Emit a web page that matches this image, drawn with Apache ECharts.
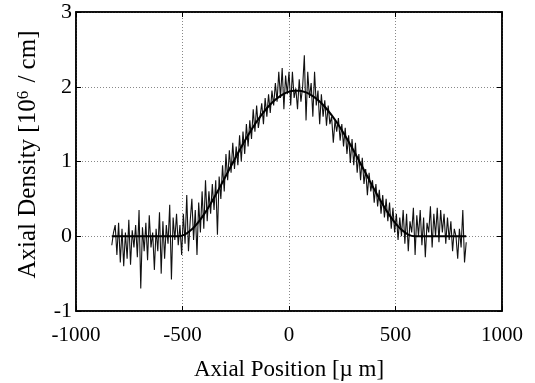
<!DOCTYPE html>
<html>
<head>
<meta charset="utf-8">
<script src="https://cdn.jsdelivr.net/npm/echarts@6/dist/echarts.min.js"></script>
<style>
html,body{margin:0;padding:0;background:#fff;}
#c{width:535px;height:383px;}
</style>
</head>
<body>
<div id="c"></div>
<script>
// Sampling grid of the measured profile (µm)
const noisyXStart = -832;
const noisyXStep = 8;
// Measured axial density (10^6 / cm)
const noisyDensity = [
-0.12,0.05,0.15,-0.25,0.18,-0.35,0.1,-0.4,0.05,-0.3,0.22,-0.38,0.08,-0.15,0.15,-0.28,0.35,-0.7,0.12,-0.2,
0.18,-0.32,0.28,-0.15,0.05,-0.45,0.1,-0.2,0.32,-0.5,0.2,-0.3,0.15,-0.1,0.42,-0.58,0.25,-0.05,0.3,-0.12,
0.15,-0.25,0.3,-0.1,0.55,-0.2,0.2,0.5,-0.05,0.35,-0.25,0.45,0.05,0.6,0.1,0.75,0.2,0.6,0.3,0.7,
0.35,0.75,0.02,0.8,0.5,0.95,0.6,1.1,0.75,1.15,0.85,1.25,0.9,1.2,0.95,1.35,1.0,1.4,1.1,1.5,
1.2,1.55,1.3,1.7,1.4,1.75,1.45,1.6,1.78,1.5,1.85,1.6,1.9,1.65,1.95,1.75,2.05,1.8,2.2,1.85,
2.25,1.7,2.15,1.9,
2.2,1.75,2.2,1.85,1.98,1.7,2.1,1.8,2.0,2.42,1.55,2.2,1.85,2.05,1.6,2.2,1.75,1.95,1.5,1.9,
1.6,1.82,1.48,1.75,1.5,1.6,1.25,1.55,1.4,1.58,1.28,1.5,1.2,1.45,1.1,1.35,0.98,1.3,0.95,1.25,
0.85,1.1,0.75,1.05,0.7,0.9,0.55,0.85,0.6,0.75,0.45,0.7,0.4,0.62,0.3,0.55,0.25,
0.5,0.2,0.45,0.1,0.38,0.05,0.3,-0.05,0.25,0.0,0.35,-0.1,0.3,-0.2,0.2,0.05,0.38,-0.25,0.28,0.0,
0.35,-0.12,0.25,-0.28,0.18,0.05,0.4,-0.15,0.3,0.0,0.38,-0.08,0.35,0.05,0.3,-0.1,0.25,-0.05,0.2,-0.2,
0.1,0.0,-0.3,0.1,-0.15,0.35,-0.35,-0.08
];
// Fitted profile
const fitX = [-832,-520,-490,-460,-430,-400,-370,-340,-310,-280,-250,-220,-190,-160,-130,-100,-70,-40,-10,20,50,80,110,140,170,200,230,260,290,320,350,380,410,440,470,500,530,560,590,832];
const fitY = [0,0,0.022,0.082,0.173,0.29,0.426,0.576,0.734,0.896,1.057,1.214,1.362,1.498,1.62,1.726,1.813,1.879,1.924,1.947,1.947,1.924,1.879,1.813,1.726,1.62,1.498,1.362,1.214,1.057,0.896,0.734,0.576,0.426,0.29,0.173,0.082,0.022,0,0];

const xTicks = [-1000,-500,0,500,1000];
const yTicks = [-1,0,1,2,3];

const noisyData = noisyDensity.map((v,i)=>[noisyXStart + i*noisyXStep, v]);
const fitData = fitX.map((x,i)=>[x, fitY[i]]);

const font = 'Liberation Serif';
const chart = echarts.init(document.getElementById('c'), null, {renderer:'canvas'});
const gridLine = {show:true, lineStyle:{color:'#888', type:[1,2], width:1}};
const plain = v => String(v);
chart.setOption({
  animation:false,
  backgroundColor:'#fff',
  grid:{left:76, right:33, top:12, bottom:72, show:true, borderColor:'#000', borderWidth:1.5,
        containLabel:false, outerBoundsMode:'none'},
  xAxis:[{
    type:'value', min:xTicks[0], max:xTicks[xTicks.length-1], interval:500,
    axisLine:{show:true, onZero:false, lineStyle:{color:'#000', width:1.5}},
    axisTick:{show:true, inside:true, length:5, lineStyle:{color:'#000'}},
    splitLine:gridLine,
    axisLabel:{color:'#000', fontFamily:font, fontSize:21, margin:14, formatter:plain},
    name:'Axial Position [µ m]', nameLocation:'middle', nameGap:47,
    nameTextStyle:{color:'#000', fontFamily:font, fontSize:23}
  },{
    type:'value', position:'top', min:xTicks[0], max:xTicks[xTicks.length-1], interval:500,
    axisLine:{show:true, onZero:false, lineStyle:{color:'#000', width:1.5}},
    axisTick:{show:true, inside:true, length:5, lineStyle:{color:'#000'}},
    axisLabel:{show:false}, splitLine:{show:false}
  }],
  yAxis:[{
    type:'value', min:yTicks[0], max:yTicks[yTicks.length-1], interval:1,
    axisLine:{show:true, onZero:false, lineStyle:{color:'#000', width:1.5}},
    axisTick:{show:true, inside:true, length:5, lineStyle:{color:'#000'}},
    splitLine:gridLine,
    axisLabel:{color:'#000', fontFamily:font, fontSize:22, margin:4, formatter:plain},
    name:'Axial Density [10{sup|6} / cm]', nameLocation:'middle', nameGap:34,
    nameTextStyle:{color:'#000', fontFamily:font, fontSize:25, padding:[0,0,0,14],
      rich:{sup:{fontSize:17, fontFamily:font, color:'#000', verticalAlign:'top', padding:[0,2,10,0]}}}
  },{
    type:'value', position:'right', min:yTicks[0], max:yTicks[yTicks.length-1], interval:1,
    axisLine:{show:true, onZero:false, lineStyle:{color:'#000', width:1.5}},
    axisTick:{show:true, inside:true, length:5, lineStyle:{color:'#000'}},
    axisLabel:{show:false}, splitLine:{show:false}
  }],
  series:[{
    type:'line', data:noisyData, symbol:'none',
    lineStyle:{color:'#111', width:1.1}
  },{
    type:'line', data:fitData, symbol:'none', smooth:0.3,
    lineStyle:{color:'#000', width:2}
  }]
});
</script>
</body>
</html>
